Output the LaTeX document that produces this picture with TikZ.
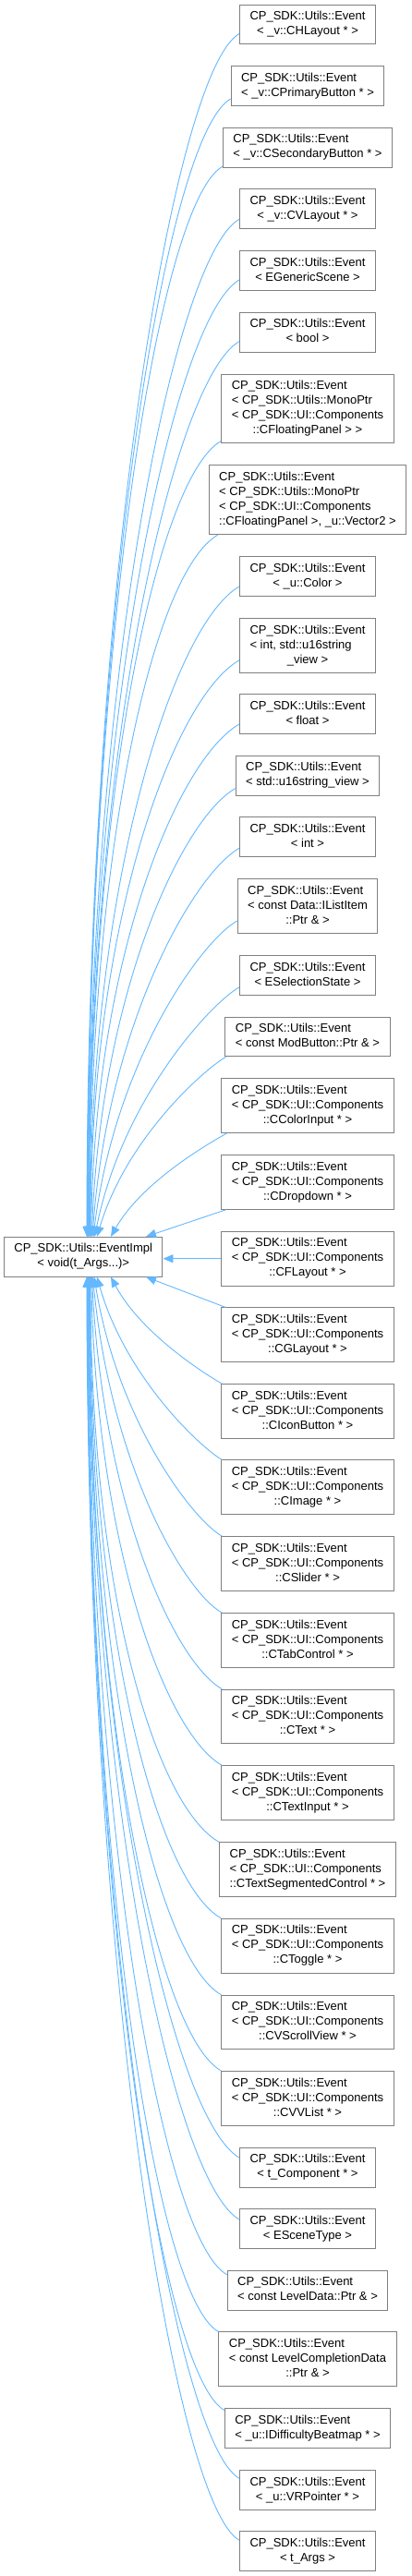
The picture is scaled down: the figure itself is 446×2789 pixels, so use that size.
\documentclass[tikz,border=0pt]{standalone}
\usepackage{fontspec}
\setmainfont{Liberation Sans}
\usetikzlibrary{arrows.meta,calc}
\definecolor{edgeblue}{HTML}{63B8FF}
\definecolor{boxgray}{HTML}{808080}
\newcommand\lbl[2]{\begin{tabular}{@{}l@{}}#1\\\multicolumn{1}{@{}c@{}}{#2}\end{tabular}}
\newcommand\EvT{CP\_SDK::Utils::Event}
\newcommand\CmpT{< CP\_SDK::UI::Components}
\newcommand\MonoT{< CP\_SDK::Utils::MonoPtr}
\tikzset{
  box/.style={draw=boxgray, fill=white, line width=1pt, inner xsep=11pt, inner ysep=5.35pt,
    font=\fontsize{13}{16}\selectfont, anchor=center},
  edge/.style={draw=edgeblue, line width=0.9pt, {Triangle[length=11pt,width=9pt]}-}
}
\newcommand\upE[4]{\draw[edge] let \p1=(P.north), \p2=(#1) in (#2pt,\y1) .. controls ({#2pt+#4pt},{\y1+0.55*(\y2-\y1)}) and ({\x2-70pt*#3},{\y2-40pt*#3}) .. (\p2);}
\newcommand\dnE[4]{\draw[edge] let \p1=(P.south), \p2=(#1) in (#2pt,\y1) .. controls ({#2pt+#4pt},{\y1+0.55*(\y2-\y1)}) and ({\x2-70pt*#3},{\y2+40pt*#3}) .. (\p2);}
\begin{document}
\begin{tikzpicture}[x=1pt,y=1pt]
\useasboundingbox (0,0) rectangle (446,-2789);
\node[box] (P) at (90.2,-1360.7) {\lbl{CP\_SDK::Utils::EventImpl}{< void(t\_Args...)>}};
\node[box] (b1) at (333,-26.5) {\lbl{\EvT}{< \_v::CHLayout * >}};
\node[box] (b2) at (333,-93) {\lbl{\EvT}{< \_v::CPrimaryButton * >}};
\node[box] (b3) at (333,-159.7) {\lbl{\EvT}{< \_v::CSecondaryButton * >}};
\node[box] (b4) at (333,-226.3) {\lbl{\EvT}{< \_v::CVLayout * >}};
\node[box] (b5) at (333,-293) {\lbl{\EvT}{< EGenericScene >}};
\node[box] (b6) at (333,-359.7) {\lbl{\EvT}{< bool >}};
\node[box] (b7) at (333,-442.5) {\lbl{\EvT\\\MonoT\\\CmpT}{::CFloatingPanel > >}};
\node[box] (b8) at (333,-541.3) {\lbl{\EvT\\\MonoT\\\CmpT}{::CFloatingPanel >, \_u::Vector2 >}};
\node[box] (b9) at (333,-624) {\lbl{\EvT}{< \_u::Color >}};
\node[box] (b10) at (333,-698.8) {\lbl{\EvT\\< int, std::u16string}{\_view >}};
\node[box] (b11) at (333,-773) {\lbl{\EvT}{< float >}};
\node[box] (b12) at (333,-839.7) {\lbl{\EvT}{< std::u16string\_view >}};
\node[box] (b13) at (333,-906.3) {\lbl{\EvT}{< int >}};
\node[box] (b14) at (333,-981) {\lbl{\EvT\\< const Data::IListItem}{::Ptr \& >}};
\node[box] (b15) at (333,-1055.8) {\lbl{\EvT}{< ESelectionState >}};
\node[box] (b16) at (333,-1122.5) {\lbl{\EvT}{< const ModButton::Ptr \& >}};
\node[box] (b17) at (333,-1197.2) {\lbl{\EvT\\\CmpT}{::CColorInput * >}};
\node[box] (b18) at (333,-1280) {\lbl{\EvT\\\CmpT}{::CDropdown * >}};
\node[box] (b19) at (333,-1362.7) {\lbl{\EvT\\\CmpT}{::CFLayout * >}};
\node[box] (b20) at (333,-1445.3) {\lbl{\EvT\\\CmpT}{::CGLayout * >}};
\node[box] (b21) at (333,-1528) {\lbl{\EvT\\\CmpT}{::CIconButton * >}};
\node[box] (b22) at (333,-1610.3) {\lbl{\EvT\\\CmpT}{::CImage * >}};
\node[box] (b23) at (333,-1693) {\lbl{\EvT\\\CmpT}{::CSlider * >}};
\node[box] (b24) at (333,-1776) {\lbl{\EvT\\\CmpT}{::CTabControl * >}};
\node[box] (b25) at (333,-1858.5) {\lbl{\EvT\\\CmpT}{::CText * >}};
\node[box] (b26) at (333,-1941.2) {\lbl{\EvT\\\CmpT}{::CTextInput * >}};
\node[box] (b27) at (333,-2024.2) {\lbl{\EvT\\\CmpT}{::CTextSegmentedControl * >}};
\node[box] (b28) at (333,-2106.7) {\lbl{\EvT\\\CmpT}{::CToggle * >}};
\node[box] (b29) at (333,-2189.5) {\lbl{\EvT\\\CmpT}{::CVScrollView * >}};
\node[box] (b30) at (333,-2271.8) {\lbl{\EvT\\\CmpT}{::CVVList * >}};
\node[box] (b31) at (333,-2346.7) {\lbl{\EvT}{< t\_Component * >}};
\node[box] (b32) at (333,-2413) {\lbl{\EvT}{< ESceneType >}};
\node[box] (b33) at (333,-2479.7) {\lbl{\EvT}{< const LevelData::Ptr \& >}};
\node[box] (b34) at (333,-2554.3) {\lbl{\EvT\\< const LevelCompletionData}{::Ptr \& >}};
\node[box] (b35) at (333,-2629) {\lbl{\EvT}{< \_u::IDifficultyBeatmap * >}};
\node[box] (b36) at (333,-2695.8) {\lbl{\EvT}{< \_u::VRPointer * >}};
\node[box] (b37) at (333,-2762.2) {\lbl{\EvT}{< t\_Args >}};
% upper edges
\upE{$(b1.west)+(0,-10)$}{94}{1}{0}
\upE{$(b2.west)+(0,-14)$}{94.4}{1}{0}
\upE{$(b3.west)+(0,-20.5)$}{94.7}{1}{0}
\upE{$(b4.west)+(0,-11)$}{95}{1}{0}
\upE{$(b5.west)+(0,-10)$}{95.3}{1}{0}
\upE{$(b6.west)+(0,-10)$}{95.7}{1}{0}
\upE{$(b7.west)+(0,-35)$}{96.3}{1}{0}
\upE{$(b8.south west)+(10,0)$}{97}{1}{0}
\upE{$(b9.west)+(0,-11)$}{97.5}{1}{0}
\upE{$(b10.west)+(0,-16)$}{98}{1}{0}
\upE{$(b11.west)+(0,-11)$}{98.6}{0.93}{4}
\upE{$(b12.west)+(0,-14)$}{99.3}{0.81}{10}
\upE{$(b13.west)+(0,-12)$}{100}{0.70}{17}
\upE{$(b14.west)+(0,-16)$}{101}{0.57}{23}
\upE{$(b15.west)+(0,-13)$}{102.5}{0.45}{30}
\upE{$(b16.south west)+(1,0)$}{105}{0.33}{32}
\upE{$(b17.south west)+(6,0)$}{120}{0.19}{35}
\draw[edge] let \p1=(P.north) in (158pt,\y1) -- ($(b18.south west)+(5,0)$);
\draw[edge] (b19.west -| P.east) -- (b19.west);
\draw[edge] let \p1=(P.south) in (158pt,\y1) -- ($(b20.north west)+(5,0)$);
% lower edges
\dnE{$(b21.north west)+(1,0)$}{120}{0.19}{34}
\dnE{$(b22.north west)+(1,0)$}{105}{0.33}{31}
\dnE{$(b23.north west)+(1,0)$}{102}{0.47}{25}
\dnE{$(b24.north west)+(1,0)$}{100.5}{0.61}{19}
\dnE{$(b25.north west)+(1,0)$}{99.5}{0.75}{12}
\dnE{$(b26.north west)+(1,0)$}{98.7}{0.88}{6}
\dnE{b27.north west}{98}{1}{0}
\dnE{b28.north west}{97.4}{1}{0}
\dnE{b29.north west}{96.9}{1}{0}
\dnE{b30.north west}{96.4}{1}{0}
\dnE{$(b31.west)+(0,10.7)$}{96}{1}{0}
\dnE{$(b32.west)+(0,10)$}{95.6}{1}{0}
\dnE{$(b33.west)+(0,17)$}{95.2}{1}{0}
\dnE{b34.north west}{94.9}{1}{0}
\dnE{$(b35.west)+(0,19.5)$}{94.6}{1}{0}
\dnE{$(b36.west)+(0,12.5)$}{94.3}{1}{0}
\dnE{$(b37.west)+(0,12)$}{94}{1}{0}
\end{tikzpicture}
\end{document}
